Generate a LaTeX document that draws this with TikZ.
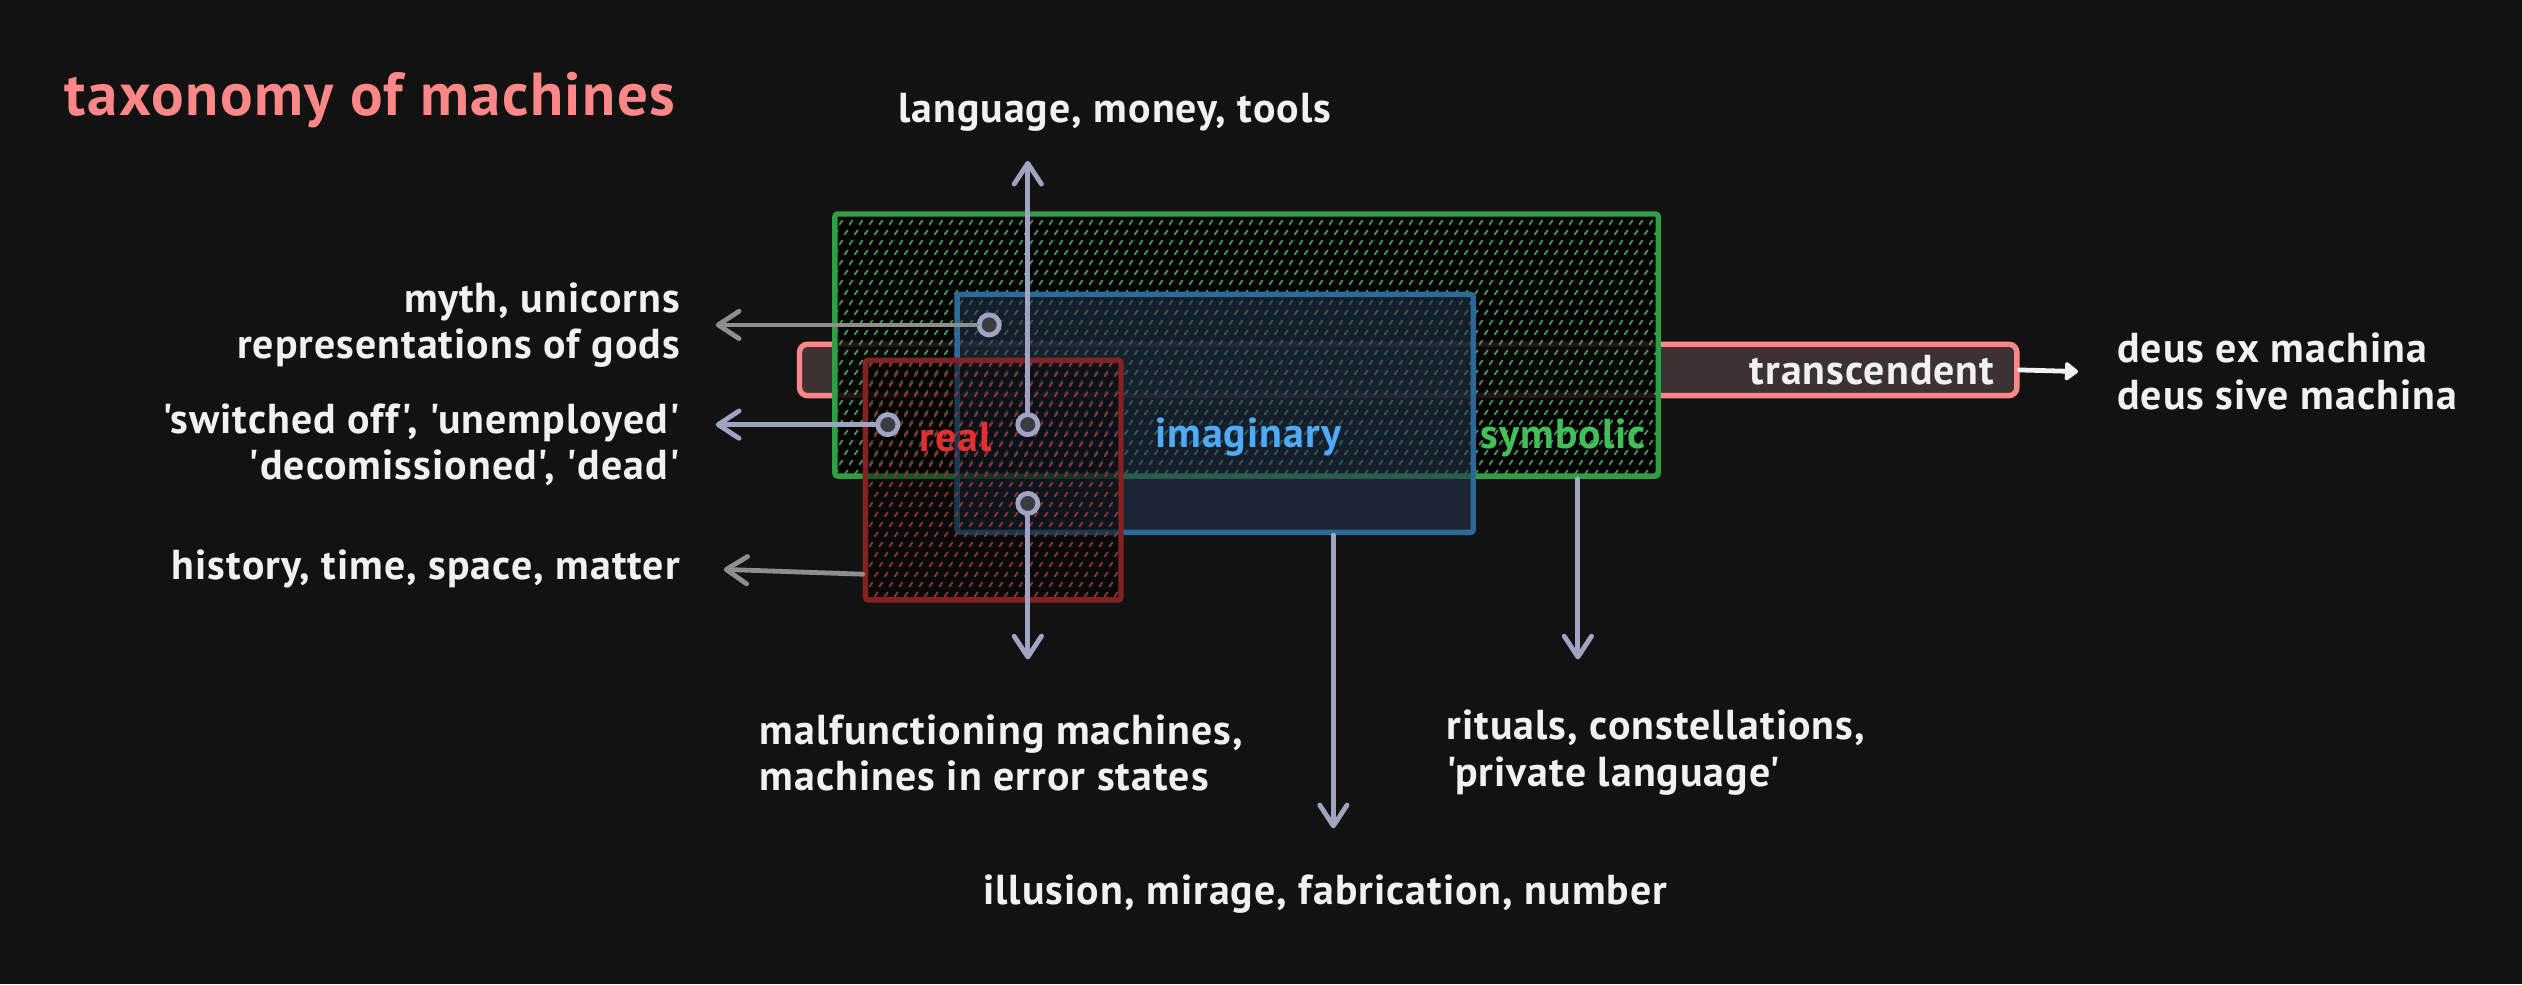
\documentclass[tikz,border=0pt]{standalone}
\usepackage{fontspec}
\setmainfont{PT Sans}[Ligatures=TeXOff, LetterSpace=2.5]
\usetikzlibrary{arrows.meta, positioning, patterns.meta}

\definecolor{canvas}{HTML}{121212}
\definecolor{ink}{HTML}{F1F1F1}
\definecolor{salmon}{HTML}{FF8787}
\definecolor{barfill}{HTML}{3C3234}
\definecolor{symedge}{HTML}{2F9E44}
\definecolor{symtxt}{HTML}{40C057}
\definecolor{symhatch}{HTML}{409650}
\definecolor{imgedge}{HTML}{2A6A99}
\definecolor{imgfill}{HTML}{22324A}
\definecolor{imgtxt}{HTML}{4DABF7}
\definecolor{realedge}{HTML}{822222}
\definecolor{realhatch}{HTML}{8A3434}
\definecolor{realtxt}{HTML}{E03131}
\definecolor{lav}{HTML}{A0A4C2}
\definecolor{dimgrey}{HTML}{8E8E8E}
\definecolor{dotfill}{HTML}{3B3C42}

\pgfdeclarepattern{
  name=hatch,
  type=uncolored,
  bottom left={\pgfpoint{0pt}{0pt}},
  top right={\pgfpoint{3.6pt}{7.2pt}},
  tile size={\pgfpoint{3.6pt}{7.2pt}},
  code={
    \pgfsetlinewidth{0.7pt}
    \pgfsetroundcap
    \pgfpathmoveto{\pgfpoint{0.3pt}{1.0pt}}
    \pgfpathlineto{\pgfpoint{1.4pt}{2.4pt}}
    \pgfpathmoveto{\pgfpoint{2.1pt}{4.6pt}}
    \pgfpathlineto{\pgfpoint{3.2pt}{6.0pt}}
    \pgfusepath{stroke}
  }
}

\begin{document}
\begin{tikzpicture}[
  x=0.02cm, y=-0.02cm,
  txt/.style={text=ink, font=\bfseries\fontsize{14.8}{16.5}\selectfont, inner sep=0pt},
  region/.style={rectangle, inner sep=0pt, line width=1.9pt, rounded corners=1pt},
  bar/.style={rectangle, rounded corners=1mm, draw=salmon, fill=barfill,
              line width=1.9pt, minimum width=15.14cm, minimum height=0.64cm,
              text width=14.58cm, align=right, inner xsep=2.8mm, inner ysep=0pt,
              text=ink, font=\bfseries\fontsize{14.8}{16.5}\selectfont},
  dot/.style={circle, draw=lav, fill=dotfill, line width=1.7pt,
              minimum size=2.5mm, inner sep=0pt},
  arrow/.style={-{Straight Barb[length=2.6mm, width=3.4mm, round]},
                line width=1.7pt, draw=lav, line cap=round},
  dimarrow/.style={arrow, draw=dimgrey},
  whitearrow/.style={-{Triangle[length=1.8mm, width=2.6mm, round]},
                     line width=1.7pt, draw=ink, fill=ink, line cap=round},
]

% ---- canvas ----
\fill[canvas] (0,0) rectangle (1568,612);
\useasboundingbox (0,0) rectangle (1568,612);

% ---- regions ----
\node[bar] (trans) at (875.5,230) {transcendent};
\node[region, draw=symedge, minimum width=10.24cm, minimum height=3.26cm,
      preaction={fill=black, fill opacity=0.85},
      pattern=hatch, pattern color=symhatch] (symb) at (775,214.5) {};
\node[region, draw=imgedge, fill=imgfill, fill opacity=0.6,
      minimum width=6.42cm, minimum height=2.96cm] (imag) at (755.5,257) {};
\node[region, draw=realedge, minimum width=3.18cm, minimum height=2.98cm,
      preaction={fill=black, fill opacity=0.45},
      pattern=hatch, pattern color=realhatch] (real) at (617.5,298.5) {};

\node[txt, text=realtxt] (reallbl) at (594,272) {real};
\node[txt, text=imgtxt] (imaglbl) at (776,272) {imaginary};
\node[txt, text=symtxt] (symblbl) at (972,272) {symbolic};

% ---- dots and ends ----
\node[dot] (mythdot) at (615,202) {};
\node[dot] (offdot) at (552,264) {};
\node[dot] (tooldot) at (639,264) {};
\node[dot] (errdot) at (639,313) {};

\coordinate (mythend) at (445,202);
\coordinate (offend) at (445,264);
\coordinate (toolend) at (639,100);
\coordinate (errend) at (639,410);
\coordinate (numend) at (829,515);
\coordinate (ritend) at (981,410);
\coordinate (histend) at (450,354);
\coordinate (deusend) at (1292,231);

% ---- arrows ----
\draw[dimarrow] (mythdot) -- (mythend);
\draw[arrow] (offdot) -- (offend);
\draw[arrow] (tooldot) -- (toolend);
\draw[arrow] (errdot) -- (errend);
\draw[arrow] (imag.south -| numend) -- (numend);
\draw[arrow] (symb.south -| ritend) -- (ritend);
\draw[dimarrow] ([yshift=-11.7mm]real.west) -- (histend);
\draw[whitearrow] (trans.east) -- (deusend);

% ---- texts ----
\node[txt, text=salmon, font=\bfseries\fontsize{21.5}{25}\selectfont, anchor=west]
  (title) at (40,62) {taxonomy of machines};
\node[txt] (tools) at (693,70) {language, money, tools};
\node[txt, align=right, left=4.4mm of mythend] (myth)
  {myth, unicorns\\representations of gods};
\node[txt, align=right, anchor=east] (off) at (423,276.5)
  {'switched off', 'unemployed'\\'decomissioned', 'dead'};
\node[txt, left=5.4mm of histend] (hist) {history, time, space, matter};
\node[txt, align=left, anchor=west] (err) at (472,468)
  {malfunctioning machines,\\machines in error states};
\node[txt, align=left, anchor=west] (rit) at (899,468)
  {rituals, constellations,\\'private language'};
\node[txt] (num) at (824,556) {illusion, mirage, fabrication, number};
\node[txt, align=left, right=4.8mm of deusend] (deus)
  {deus ex machina\\deus sive machina};

\end{tikzpicture}
\end{document}
